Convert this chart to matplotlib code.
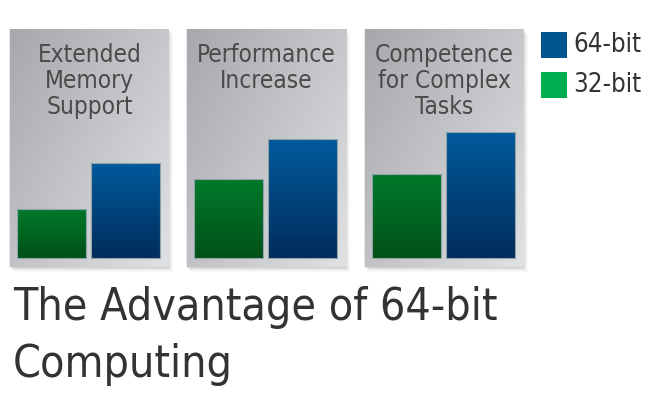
import numpy as np
import matplotlib
matplotlib.use("Agg")
import matplotlib.pyplot as plt
from matplotlib.colors import LinearSegmentedColormap
from matplotlib.patches import Rectangle

# ---- data ----
panel_titles = ["Extended\nMemory\nSupport", "Performance\nIncrease", "Competence\nfor Complex\nTasks"]
series_labels = ["32-bit", "64-bit"]
values_32 = [49, 79, 84]
values_64 = [95, 119, 126]
main_title = ["The Advantage of 64-bit", "Computing"]

# ---- style ----
W, H, DPI = 650, 399, 100
FONT = dict(family="DejaVu Sans", stretch="condensed")
green_grad = ("#00792a", "#005118")
blue_grad = ("#005a9b", "#002d5c")
legend_cols = {"64-bit": "#00558f", "32-bit": "#00ad4f"}
panel_grad = ("#a7a8ac", "#e0e1e3")

fig = plt.figure(figsize=(W / DPI, H / DPI), dpi=DPI)
fig.patch.set_facecolor("white")

# background axes in pixel units, for shadows
bg = fig.add_axes([0, 0, 1, 1], zorder=-5)
bg.set_xlim(0, W)
bg.set_ylim(H, 0)
bg.axis("off")

panel_lefts = [10, 187, 365]
panel_w, panel_top, panel_bot = 159, 29, 267

def fx(px):
    return px / W

def fy(py):
    return 1 - py / H

panel_cmap = LinearSegmentedColormap.from_list("pg", panel_grad)

def vgrad(c1, c2):
    return LinearSegmentedColormap.from_list("g", [c2, c1])

for i, left in enumerate(panel_lefts):
    # soft shadow (right / bottom)
    for k, a in zip(range(6, 0, -1), [0.03, 0.04, 0.06, 0.08, 0.10, 0.13]):
        bg.add_patch(Rectangle((left + k - 2, panel_top + k - 1), panel_w, panel_bot - panel_top,
                               facecolor="#5a5a5a", edgecolor="none", alpha=a))
    ax = fig.add_axes([fx(left), fy(panel_bot), fx(panel_w), (panel_bot - panel_top) / H])
    ax.axis("off")
    # panel gradient (diagonal)
    yy, xx = np.mgrid[0:1:200j, 0:1:200j]
    grad = (xx * 0.55 + yy * 0.45)
    ax.imshow(grad, cmap=panel_cmap, extent=(0, 1, 0, 1), transform=ax.transAxes,
              aspect="auto", zorder=0, origin="upper")

    bars = ax.bar([0, 1], [values_32[i], values_64[i]], width=0.92,
                  color="none", edgecolor="#8fa3aa", linewidth=0.8, zorder=3)
    for bar, (c1, c2) in zip(bars, [green_grad, blue_grad]):
        x0, y0 = bar.get_x(), bar.get_y()
        w, h = bar.get_width(), bar.get_height()
        g = np.linspace(0, 1, 100).reshape(-1, 1)
        im = ax.imshow(g, cmap=vgrad(c1, c2), extent=(x0, x0 + w, y0, y0 + h),
                       aspect="auto", origin="lower", zorder=2)
        im.set_clip_path(bar)
    ax.set_xlim(-0.554, 1.581)
    ax.set_ylim(-9, 229)

    ax.text(0.5, 1 - 14 / 238, panel_titles[i], transform=ax.transAxes, ha="center", va="top",
            fontsize=17.5, color="#4a4a4a", linespacing=1.1, zorder=4, **FONT)

# legend
leg_items = ["64-bit", "32-bit"]
leg_tops = [32, 72]
for lab, top in zip(leg_items, leg_tops):
    fig.patches.append(Rectangle((fx(541), fy(top + 26)), fx(26), 26 / H,
                                 transform=fig.transFigure, facecolor=legend_cols[lab],
                                 edgecolor="none"))
    fig.text(fx(573), fy(top + 13), lab, ha="left", va="center", fontsize=18.5,
             color="#333333", **FONT)

# main title
fig.text(fx(13), fy(320), main_title[0], ha="left", va="baseline", fontsize=32,
         color="#333333", **FONT)
fig.text(fx(13), fy(377), main_title[1], ha="left", va="baseline", fontsize=32,
         color="#333333", **FONT)

fig.savefig("out.png", dpi=DPI, facecolor="white")
